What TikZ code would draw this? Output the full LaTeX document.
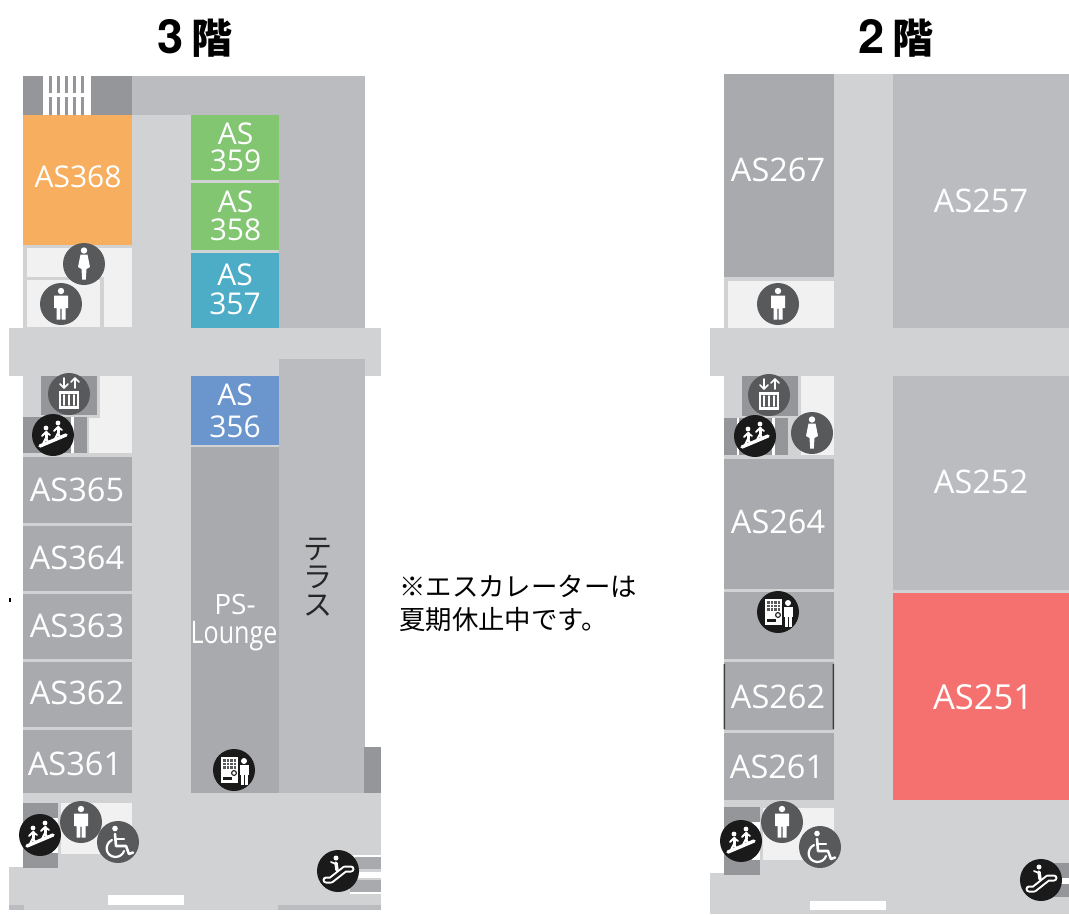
\documentclass[tikz,border=0pt]{standalone}
\usepackage{graphicx}
\usepackage{fontspec}
\setmainfont{Open Sans}
\newfontfamily\cjk{Noto Sans CJK JP}
\newfontfamily\heros{TeX Gyre Heros}
\definecolor{corr}{HTML}{D1D2D4}
\definecolor{lite}{HTML}{BBBCBF}
\definecolor{room}{HTML}{A8AAAD}
\definecolor{dark}{HTML}{949699}
\definecolor{wc}{HTML}{F1F1F2}
\definecolor{iconG}{HTML}{58595B}
\definecolor{iconK}{HTML}{1A1A1A}
\definecolor{orangeR}{HTML}{F7AE5E}
\definecolor{greenR}{HTML}{82C672}
\definecolor{tealR}{HTML}{4DADC6}
\definecolor{blueR}{HTML}{6A96CD}
\definecolor{redR}{HTML}{F4716F}
\newcommand{\Bx}[5]{\fill[#1] (#2,#3) rectangle (#4,#5);}
\tikzset{
  x=1pt,y=-1pt,
  lab/.style={text=white,font=\fontsize{32.5}{34}\selectfont,inner sep=0pt,align=center},
  labc/.style={text=white,font=\fontsize{30}{27}\selectfont,inner sep=0pt,align=center},
  bigstr/.style={text=white,font=\fontsize{34.5}{36}\selectfont,inner sep=0pt},
  title/.style={text=black,inner sep=0pt},
  note/.style={text=black,font=\cjk\fontsize{26.4}{33}\selectfont,inner sep=0pt,align=left,anchor=west},
  wl/.style={draw=white,line width=#1,line cap=round,line join=round},
  wl/.default=1.5,
  manicon/.pic={
    \fill[iconG] (0,0) circle[radius=21];
    \fill[white] (0,-13) circle[radius=3.2];
    \fill[white] (-7,-8.5) -- (7,-8.5) -- (7,4) -- (4.5,4) -- (4.5,15.5) -- (.6,15.5) -- (.6,4.5) -- (-.6,4.5) -- (-.6,15.5) -- (-4.5,15.5) -- (-4.5,4) -- (-7,4) -- cycle;
  },
  womanicon/.pic={
    \fill[iconG] (0,0) circle[radius=21];
    \fill[white] (0,-13.5) circle[radius=3.2];
    \fill[white] (-3.5,-9.5) -- (3.5,-9.5) -- (6,3) -- (2.5,5) -- (1.8,15.5) -- (-1.8,15.5) -- (-2.5,5) -- (-6,3) -- cycle;
  },
  wheelicon/.pic={
    \fill[iconG] (0,0) circle[radius=21];
    \fill[white] (-3,-13.5) circle[radius=2.8];
    \draw[wl=2.6] (-3,-8) -- (-2,4) -- (8,4) -- (11,12) -- (15,10.5);
    \draw[wl=2.2] (-2,-3) -- (6,-3);
    \draw[wl=2.2] (-6,-2) .. controls (-14,2) and (-13,14) .. (-3,15) .. controls (2,15) and (5,12) .. (6,9);
  },
  stairicon/.pic={
    \fill[iconK] (0,0) circle[radius=21];
    \draw[wl=3.4] (-13,11) -- (13,0);
    \foreach \dx/\dy in {-7/2,5/-3}{
      \begin{scope}[shift={(\dx,\dy)}]
        \fill[white] (0,-9) circle[radius=2.4];
        \draw[wl=3] (0,-5) -- (0,1);
        \draw[wl=2.2] (0,1) -- (-3,7);
        \draw[wl=2.2] (0,1) -- (2.5,6);
        \draw[wl=1.8] (-4,-1) -- (0,-5) -- (4,-2);
      \end{scope}
    }
  },
  elevicon/.pic={
    \fill[iconG] (0,0) circle[radius=21];
    \fill[white] (-10,-3) rectangle (10,15);
    \fill[iconG] (-8,0) rectangle (8,12);
    \foreach \a in {-5,0,5}{\draw[wl=1.5] (\a,1) -- (\a,11);}
    \draw[wl=1.7] (-5,-16) -- (-5,-6) (-9,-10) -- (-5,-6) -- (-1,-10);
    \draw[wl=1.7] (6,-6) -- (6,-16) (2,-12) -- (6,-16) -- (10,-12);
  },
  vendicon/.pic={
    \fill[iconK] (0,0) circle[radius=21];
    \fill[white] (-13,-13) rectangle (4,13);
    \fill[iconG] (-11,-11) rectangle (2,-1);
    \foreach \a in {-8,-4.5,-1}{\draw[white,line width=.9] (\a,-11) -- (\a,-1);}
    \foreach \a in {-8,-4.5}{\draw[white,line width=.9] (-11,\a) -- (2,\a);}
    \fill[iconK] (-11,7) rectangle (-2,10);
    \draw[iconK,line width=1.1] (0,3) circle[radius=2.4];
    \fill[white] (10,-9) circle[radius=3];
    \fill[white] (5.5,-5) rectangle (15,5);
    \fill[white] (6.5,5) rectangle (14,15);
    \draw[iconK,line width=.9] (10.2,5) -- (10.2,15);
  },
  escicon/.pic={
    \fill[iconK] (0,0) circle[radius=21];
    \draw[white,line width=7,line cap=round,line join=round] (-12,9) -- (-7,9) -- (7,-2) -- (13,-2);
    \draw[iconK,line width=3,line cap=round,line join=round] (-12,9) -- (-7,9) -- (7,-2) -- (13,-2);
    \fill[white] (-2,-13) circle[radius=2.5];
    \draw[wl=3.4] (-2,-8) -- (-1,-1);
    \draw[wl=1.7] (-7,-9) -- (-2,-7);
  },
}
\begin{document}
\begin{tikzpicture}
\useasboundingbox (0,0) rectangle (1069,914);
% ---- 3F floor
\Bx{corr}{23}{245}{279}{800}
\Bx{corr}{132}{115}{279}{328}
\Bx{lite}{132}{76}{365}{115}
\Bx{dark}{23}{76}{132}{115}
\Bx{white}{43}{76}{91}{115}
\foreach \a in {49,57,65,73,81}{\fill[dark] (\a,76) rectangle ++(3,17); \fill[dark] (\a,97) rectangle ++(3,18);}
\Bx{lite}{279}{115}{365}{328}
\Bx{wc}{27}{248}{132}{277}
\Bx{wc}{27}{280}{100}{327}
\Bx{wc}{104}{248}{132}{327}
\Bx{orangeR}{23}{115}{132}{245}
\Bx{greenR}{191}{115}{279}{180}
\Bx{greenR}{191}{183}{279}{250}
\Bx{tealR}{191}{253}{279}{328}
\Bx{corr}{9}{328}{381}{376}
\Bx{lite}{279}{359}{365}{793}
\Bx{dark}{41}{376}{97}{415}
\Bx{wc}{100}{376}{132}{453}
\Bx{wc}{89}{418}{132}{453}
\Bx{dark}{23}{417}{87}{453}
\Bx{white}{71}{417}{74}{453}
\Bx{room}{23}{457}{132}{523}
\Bx{room}{23}{526}{132}{591}
\Bx{room}{23}{594}{132}{659}
\Bx{room}{23}{662}{132}{727}
\Bx{room}{23}{730}{132}{799}
\Bx{blueR}{191}{376}{279}{445}
\Bx{room}{191}{447}{279}{793}
\Bx{dark}{364}{747}{381}{793}
\Bx{corr}{23}{793}{381}{868}
\Bx{corr}{132}{793}{381}{905}
\Bx{corr}{9}{867}{381}{905}
\Bx{dark}{23}{803}{58}{868}
\Bx{white}{52}{818}{58}{853}
\Bx{wc}{61}{803}{132}{854}
\Bx{white}{108}{895}{184}{905}
\Bx{lite}{9}{905}{24}{910}
\Bx{corr}{24}{905}{278}{910}
\Bx{lite}{278}{905}{381}{910}
\Bx{white}{350}{855}{381}{857}
\Bx{room}{355}{857}{381}{869}
\Bx{white}{355}{872}{381}{878}
\Bx{room}{350}{880}{381}{892}
\Bx{white}{350}{892}{381}{894}
\Bx{black}{9}{598}{11}{602}
% ---- 2F floor
\Bx{corr}{834}{74}{893}{800}
\Bx{corr}{724}{277}{834}{805}
\Bx{corr}{893}{376}{1069}{600}
\Bx{room}{724}{74}{834}{277}
\Bx{lite}{893}{74}{1069}{328}
\Bx{wc}{728}{281}{834}{328}
\Bx{corr}{710}{328}{1069}{376}
\Bx{dark}{742}{376}{798}{416}
\Bx{wc}{801}{376}{834}{455}
\Bx{dark}{724}{418}{788}{455}
\Bx{white}{737}{418}{739}{455}
\Bx{white}{772}{418}{775}{455}
\Bx{room}{724}{459}{834}{589}
\Bx{room}{724}{592}{834}{659}
\Bx{room}{724}{662}{834}{730}
\fill[black!75] (723.5,664) rectangle (725,729) (832.5,664) rectangle (834,729);
\Bx{room}{724}{733}{834}{805}
\Bx{lite}{893}{376}{1069}{590}
\Bx{redR}{893}{593}{1069}{800}
\Bx{corr}{724}{800}{1069}{875}
\Bx{corr}{710}{873}{1069}{914}
\Bx{dark}{724}{807}{760}{875}
\Bx{white}{752}{822}{760}{860}
\Bx{wc}{763}{808}{834}{860}
\Bx{white}{810}{901}{886}{910}
\Bx{dark}{1040}{863}{1069}{878}
\Bx{white}{1040}{878}{1069}{884}
\Bx{dark}{1040}{884}{1069}{897}
% ---- icons
\pic at (84,264) {womanicon};
\pic at (61,304) {manicon};
\pic at (69,394) {elevicon};
\pic at (53,435) {stairicon};
\pic at (234,770) {vendicon};
\pic at (81,822) {manicon};
\pic at (118,842) {wheelicon};
\pic at (40,835) {stairicon};
\pic at (338,871) {escicon};
\pic at (778,304) {manicon};
\pic at (769,395) {elevicon};
\pic at (755,436) {stairicon};
\pic at (812,433) {womanicon};
\pic at (778,612) {vendicon};
\pic at (782,822) {manicon};
\pic at (820,847) {wheelicon};
\pic at (741,841) {stairicon};
\pic at (1041,880) {escicon};
% ---- titles
\node[title] (t3) at (195,38) {\heros\bfseries\fontsize{47}{47}\selectfont 3\hspace{7pt}{\cjk\bfseries\fontsize{41}{41}\selectfont 階}};
\node[title] (t2) at (896,38) {\heros\bfseries\fontsize{47}{47}\selectfont 2\hspace{7pt}{\cjk\bfseries\fontsize{41}{41}\selectfont 階}};
% ---- 3F labels
\node[labc] (a368) at (78,177) {AS368};
\node[labc] (a359) at (235.5,147.5) {AS\\359};
\node[labc] (a358) at (235.5,216) {AS\\[1pt]358};
\node[labc] (a357) at (235,289.5) {AS\\[2pt]357};
\node[labc] (a356) at (235,411) {AS\\[5pt]356};
\node[lab] (a365) at (77,490) {AS365};
\node[lab] (a364) at (77,558) {AS364};
\node[lab] (a363) at (77,626) {AS363};
\node[lab] (a362) at (77,693) {AS362};
\node[lab] (a361) at (75,764) {AS361};
\node[lab,font=\fontsize{28}{30}\selectfont] (ps) at (235,604) {PS-};
\node[lab,font=\fontsize{31}{33}\selectfont] (lounge) at (234,636) {\scalebox{0.81}[1]{Lounge}};
\node[text=black!85,font=\cjk\fontsize{29}{28}\selectfont,align=center,inner sep=0pt] (terr) at (318,577) {テ\\ラ\\ス};
\node[note] (nt) at (399,603) {※エスカレーターは\\夏期休止中です。};
% ---- 2F labels
\node[lab] (a267) at (778,170) {AS267};
\node[lab] (a257) at (981,201) {AS257};
\node[lab] (a264) at (778,522) {AS264};
\node[lab] (a252) at (981,482) {AS252};
\node[lab] (a262) at (778,697) {AS262};
\node[lab] (a261) at (777,767) {AS261};
\node[bigstr] (a251) at (983,697) {AS251};
\end{tikzpicture}
\end{document}
